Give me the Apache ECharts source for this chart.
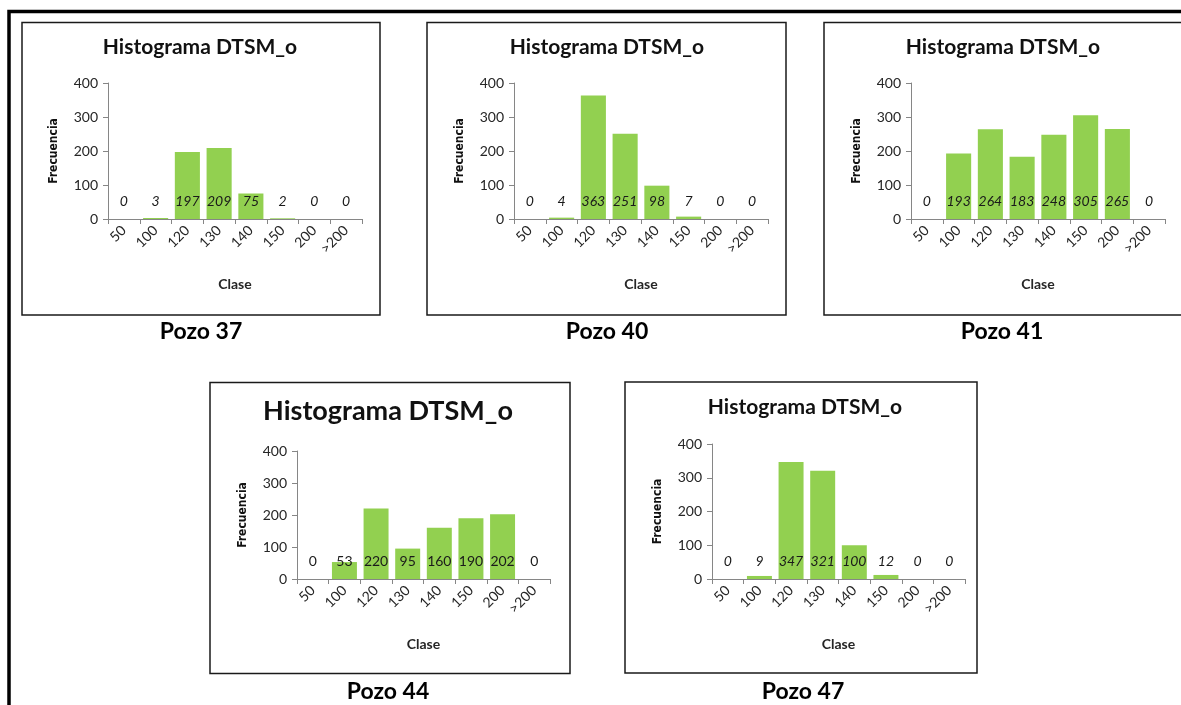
<!DOCTYPE html>
<html>
<head>
<meta charset="utf-8">
<script src="https://cdn.jsdelivr.net/npm/echarts@6/dist/echarts.min.js"></script>
<style>
html,body{margin:0;padding:0;background:#fff;}
#c{width:1181px;height:705px;}
</style>
</head>
<body>
<div id="c"></div>
<script>
// ---- data ----
const categories = ['50', '100', '120', '130', '140', '150', '200', '>200'];
const pozo37 = [0, 3, 197, 209, 75, 2, 0, 0];
const pozo40 = [0, 4, 363, 251, 98, 7, 0, 0];
const pozo41 = [0, 193, 264, 183, 248, 305, 265, 0];
const pozo44 = [0, 53, 220, 95, 160, 190, 202, 0];
const pozo47 = [0, 9, 347, 321, 100, 12, 0, 0];
const yTickMax = 400;
const yTickStep = 100;
const chartTitle = 'Histograma DTSM_o';
const xName = 'Clase';
const yName = 'Frecuencia';
const captions = ['Pozo 37', 'Pozo 40', 'Pozo 41', 'Pozo 44', 'Pozo 47'];

// ---- layout ----
const panels = [
  { data: pozo37, grid: { left: 108, top: 83, width: 254, height: 136 }, titleX: 200, titleY: 37, titleSize: 21, cap: [201, 332], italic: true, box: [22, 22.5, 358, 292.5] },
  { data: pozo40, grid: { left: 514, top: 83, width: 254, height: 136 }, titleX: 607, titleY: 37, titleSize: 21, cap: [607, 332], italic: true, box: [427, 22.5, 359, 292.5] },
  { data: pozo41, grid: { left: 911, top: 83, width: 254, height: 136 }, titleX: 1003, titleY: 37, titleSize: 21, cap: [1002, 332], italic: true, box: [824, 22.5, 380, 292.5] },
  { data: pozo44, grid: { left: 297, top: 451, width: 253, height: 128 }, titleX: 388, titleY: 398, titleSize: 27, cap: [388, 692], italic: false, box: [210, 382.5, 360, 291] },
  { data: pozo47, grid: { left: 712, top: 444, width: 253, height: 135 }, titleX: 805, titleY: 397, titleSize: 21, cap: [803, 692], italic: true, box: [625, 382, 352, 291] }
];

const axisColor = '#868686';
const textColor = '#262626';
const barColor = '#92D050';

const chart = echarts.init(document.getElementById('c'), null, { renderer: 'canvas' });

const option = {
  animation: false,
  backgroundColor: '#fff',
  title: panels.map(p => ({
    text: chartTitle,
    left: p.titleX,
    top: p.titleY,
    textAlign: 'center',
    padding: 0,
    textStyle: { fontFamily: 'Lato', fontWeight: 'bold', fontSize: p.titleSize, color: '#111' }
  })),
  grid: panels.map(p => Object.assign({ containLabel: false }, p.grid)),
  xAxis: panels.map((p, i) => ({
    type: 'category',
    gridIndex: i,
    data: categories,
    name: xName,
    nameLocation: 'middle',
    nameGap: 58,
    nameTextStyle: { fontFamily: 'Lato', fontWeight: 'bold', fontSize: 14, color: textColor },
    axisLine: { show: true, lineStyle: { color: axisColor, width: 1 } },
    axisTick: { show: true, length: 5, lineStyle: { color: axisColor } },
    axisLabel: { rotate: 45, margin: 9, fontFamily: 'Lato', fontSize: 14, color: textColor, interval: 0 },
    splitLine: { show: false }
  })),
  yAxis: panels.map((p, i) => ({
    type: 'value',
    gridIndex: i,
    min: 0,
    max: yTickMax,
    interval: yTickStep,
    name: yName,
    nameLocation: 'middle',
    nameRotate: 90,
    nameGap: 48,
    nameTextStyle: { fontFamily: 'DejaVu Sans Condensed', fontWeight: 'bold', fontSize: 12, color: '#111' },
    axisLine: { show: true, lineStyle: { color: axisColor, width: 1 } },
    axisTick: { show: true, length: 5, lineStyle: { color: axisColor } },
    axisLabel: { margin: 10, fontFamily: 'Lato', fontSize: 14, color: textColor },
    splitLine: { show: false }
  })),
  series: panels.map((p, i) => ({
    type: 'bar',
    xAxisIndex: i,
    yAxisIndex: i,
    data: p.data,
    barCategoryGap: '21%',
    itemStyle: { color: barColor },
    label: {
      show: true,
      position: 'insideBottom',
      distance: 11,
      fontFamily: 'Lato',
      fontSize: 14,
      fontStyle: p.italic ? 'italic' : 'normal',
      color: '#1a1a1a'
    }
  })),
  graphic: [
    {
      type: 'polyline',
      shape: { points: [[9, 705], [9, 11.5], [1181, 11.5]] },
      style: { stroke: '#000', lineWidth: 3.5, fill: null },
      silent: true
    }
  ].concat(panels.map(p => ({
    type: 'rect',
    shape: { x: p.box[0], y: p.box[1], width: p.box[2], height: p.box[3] },
    style: { stroke: '#1a1a1a', lineWidth: 1.5, fill: null },
    silent: true,
    z: -1
  }))).concat(panels.map((p, i) => ({
    type: 'text',
    x: p.cap[0],
    y: p.cap[1],
    style: {
      text: captions[i],
      fontFamily: 'Lato',
      fontWeight: 'bold',
      fontSize: 23,
      fill: '#000',
      textAlign: 'center',
      textVerticalAlign: 'middle'
    },
    silent: true
  })))
};

chart.setOption(option);
</script>
</body>
</html>
